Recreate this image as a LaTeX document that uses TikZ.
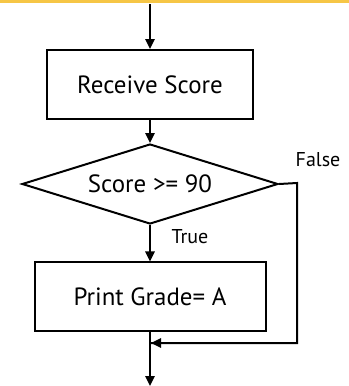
\documentclass[tikz,border=0pt]{standalone}
\usepackage{fontspec}
\setmainfont{PT Sans}
\usetikzlibrary{shapes.geometric,arrows.meta}
\definecolor{bandyellow}{HTML}{F6C646}
\tikzset{
  flowline/.style={line width=1.5pt},
  flowarrow/.style={flowline,-{Triangle[length=7.5pt,width=7pt]}},
  procbox/.style={draw,line width=1.5pt,inner sep=0pt,font=\fontsize{18.7}{21}\selectfont},
  decbox/.style={draw,diamond,line width=1.5pt,inner sep=0pt,font=\fontsize{18.7}{21}\selectfont},
  lbl/.style={font=\fontsize{15}{17}\selectfont,inner sep=0pt}
}
\newcommand{\flatlabel}[1]{\smash{\raisebox{-0.7ex}{\makebox[0pt]{#1}}}}
\begin{document}
\begin{tikzpicture}[x=0.75pt,y=-0.75pt]
\useasboundingbox (0,0) rectangle (349,386);
\fill[bandyellow] (0,0) rectangle (349,2.5);
\node[procbox,minimum width=154.5pt,minimum height=51.75pt] (recv) at (150,84.5) {Receive Score};
\node[decbox,minimum width=192pt,minimum height=60pt] (dec) at (150,184) {\flatlabel{Score >= 90}};
\node[procbox,minimum width=173.25pt,minimum height=51.4pt] (prnt) at (150,296.75) {Print Grade= A};
\coordinate (start) at (150,4);
\coordinate (fr) at (297,183);
\coordinate (fb) at (297,343);
\coordinate (join) at (150,343);
\coordinate (finish) at (150,386);
\node[lbl] (ltrue) at (190,237) {True};
\node[lbl] (lfalse) at (318,160) {False};
\draw[flowarrow] (start) -- (recv.north);
\draw[flowarrow] (recv.south) -- (dec.north);
\draw[flowarrow] (dec.south) -- (prnt.north);
\draw[flowline] (dec.east) -- (fr) -- (fb) -- ([xshift=0.75pt]join);
\draw[flowarrow] ([xshift=10pt]join) -- ([xshift=0.75pt]join);
\draw[flowarrow] (prnt.south) -- (finish);
\end{tikzpicture}
\end{document}
